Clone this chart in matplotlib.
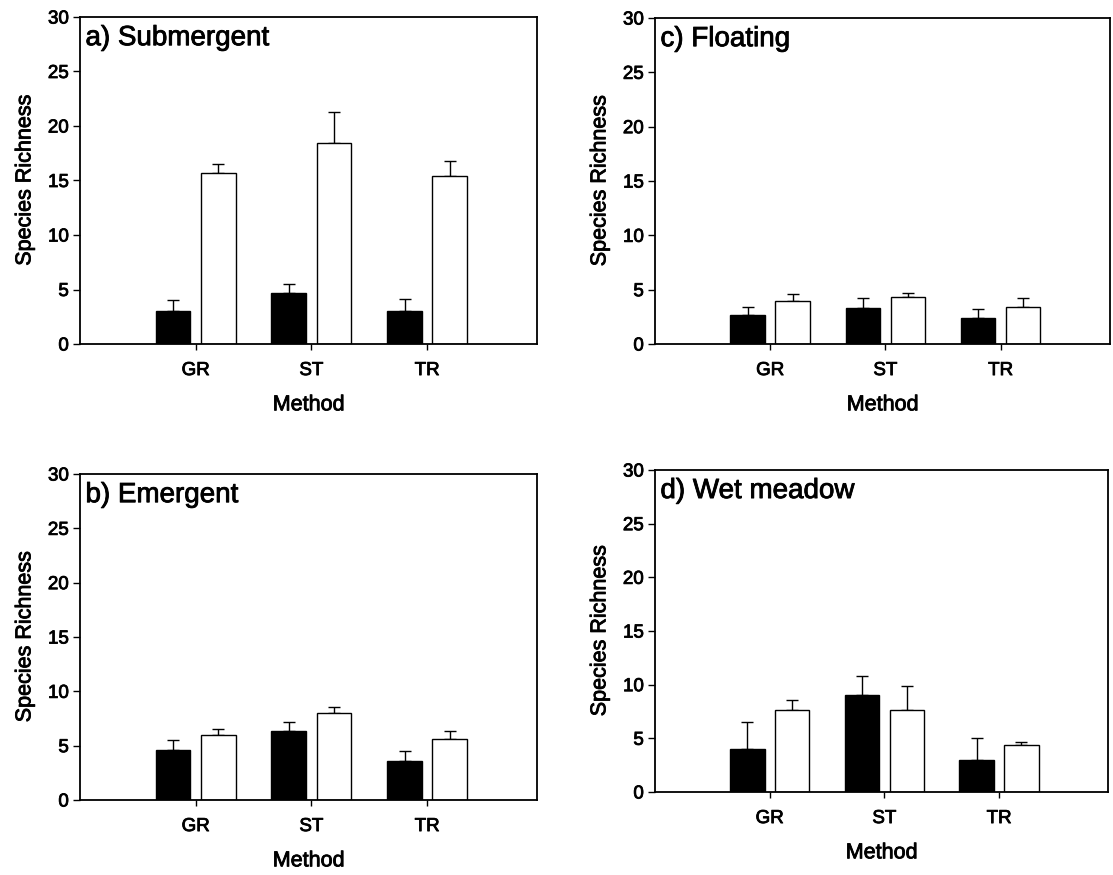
import numpy as np
import matplotlib
matplotlib.use("Agg")
import matplotlib.pyplot as plt
import matplotlib.patheffects as pe

plt.rcParams["font.family"] = ["Liberation Sans", "DejaVu Sans"]

methods = ["GR", "ST", "TR"]

# Mean species richness (black = first group, white = second group) and SE
sub_black = [3.0, 4.65, 3.0]
sub_black_err = [1.0, 0.86, 1.15]
sub_white = [15.7, 18.4, 15.4]
sub_white_err = [0.83, 2.9, 1.43]

flo_black = [2.67, 3.35, 2.36]
flo_black_err = [0.7, 0.86, 0.83]
flo_white = [4.0, 4.36, 3.38]
flo_white_err = [0.58, 0.3, 0.83]

eme_black = [4.64, 6.32, 3.62]
eme_black_err = [0.89, 0.86, 0.86]
eme_white = [6.02, 8.01, 5.65]
eme_white_err = [0.55, 0.56, 0.67]

wet_black = [4.0, 9.0, 3.0]
wet_black_err = [2.55, 1.78, 2.02]
wet_white = [7.68, 7.68, 4.38]
wet_white_err = [0.9, 2.17, 0.28]

panels = [
    ("a) Submergent", sub_black, sub_black_err, sub_white, sub_white_err,
     [80, 17, 537, 344]),
    ("c) Floating", flo_black, flo_black_err, flo_white, flo_white_err,
     [655, 18, 1110, 344]),
    ("b) Emergent", eme_black, eme_black_err, eme_white, eme_white_err,
     [80, 474, 537, 800]),
    ("d) Wet meadow", wet_black, wet_black_err, wet_white, wet_white_err,
     [655, 470, 1108, 792]),
]

W, H = 1113, 875
fig = plt.figure(figsize=(W / 100, H / 100), dpi=100)

# slight outline so the type has the weight of a printed figure
heavy = [pe.withStroke(linewidth=0.6, foreground="black")]

x = np.arange(1, len(methods) + 1)
bw = 0.30
off = 0.195

for title, b, be, w, we, (l, t, r, bt) in panels:
    ax = fig.add_axes([l / W, (H - bt) / H, (r - l) / W, (bt - t) / H])
    ax.bar(x - off, b, width=bw, color="black", edgecolor="black",
           linewidth=1.0, zorder=2)
    ax.bar(x + off, w, width=bw, color="white", edgecolor="black",
           linewidth=1.0, zorder=2)
    ax.errorbar(x - off, b, yerr=[np.zeros(len(b)), be], fmt="none",
                ecolor="black", elinewidth=1.0, capsize=4, capthick=1.0,
                zorder=1)
    ax.errorbar(x + off, w, yerr=[np.zeros(len(w)), we], fmt="none",
                ecolor="black", elinewidth=1.0, capsize=4, capthick=1.0,
                zorder=1)
    ax.set_xlim(0.0, 3.95)
    ax.set_ylim(0, 30)
    ax.set_yticks(range(0, 31, 5))
    ax.set_xticks(x)
    ax.set_xticklabels(methods)
    ax.tick_params(axis="y", direction="out", length=5, width=1.0,
                   labelsize=13.5, pad=3)
    ax.tick_params(axis="x", direction="out", length=4, width=1.0,
                   labelsize=13.5, pad=9)
    for lab in ax.get_xticklabels() + ax.get_yticklabels():
        lab.set_path_effects(heavy)
    for s in ax.spines.values():
        s.set_linewidth(1.3)
        s.set_color("black")
    yl = ax.set_ylabel("Species Richness", fontsize=15.5, labelpad=9)
    xl = ax.set_xlabel("Method", fontsize=15.5, labelpad=11)
    yl.set_path_effects(heavy)
    xl.set_path_effects(heavy)
    ax.text(0.012, 0.975, title, transform=ax.transAxes, fontsize=20,
            ha="left", va="top", path_effects=heavy)

fig.savefig("out.png", dpi=100)
